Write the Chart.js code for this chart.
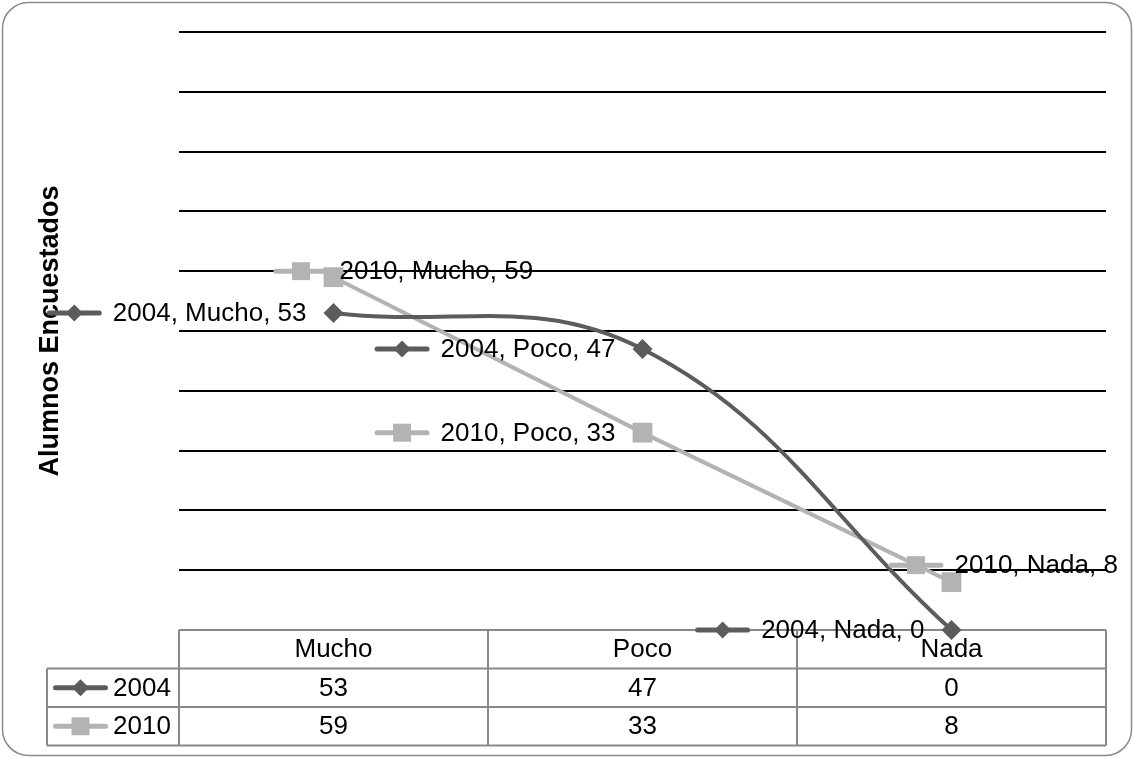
<!DOCTYPE html>
<html>
<head>
<meta charset="utf-8">
<script src="https://cdn.jsdelivr.net/npm/chart.js@4"></script>
<style>
  html, body { margin: 0; padding: 0; background: #fff; }
  #wrap { width: 1134px; height: 758px; }
</style>
</head>
<body>
<div id="wrap"><canvas id="c" width="1134" height="758"></canvas></div>
<script>
// ---- data ----
const categories = ['Mucho', 'Poco', 'Nada'];
const seriesNames = ['2004', '2010'];
const values2004 = [53, 47, 0];
const values2010 = [59, 33, 8];
const yMin = 0, yMax = 100, yStep = 10;
const axisTitle = 'Alumnos Encuestados';

// ---- style ----
const FONT = '"Liberation Sans", Arial, sans-serif';
const COLOR_2004 = '#5c5c5c';
const COLOR_2010 = '#b3b3b3';
const TABLE_LINE = '#888888';

// where each data label sits relative to its point:
// 'left' = key+text ending just left of the point, otherwise an offset of the key's left edge
const labelPlacement = [
  ['left', 'left', 'left'],
  [{ dx: -60, dy: -6 }, 'left', { dx: -63, dy: -17 }]
];

const KEY_LEN = 55, KEY_GAP = 11, LEFT_GAP = 27;

function drawMarker(ctx, ds, x, y, radius) {
  ctx.fillStyle = ds.pointBackgroundColor;
  Chart.helpers.drawPoint(ctx, { pointStyle: ds.pointStyle, radius: radius, rotation: 0, borderWidth: 0 }, x, y);
}

function drawKey(ctx, ds, x0, cy) {
  ctx.save();
  ctx.strokeStyle = ds.borderColor;
  ctx.lineWidth = 5;
  ctx.lineCap = 'round';
  ctx.beginPath();
  ctx.moveTo(x0 + 2.5, cy);
  ctx.lineTo(x0 + KEY_LEN - 2.5, cy);
  ctx.stroke();
  drawMarker(ctx, ds, x0 + KEY_LEN / 2, cy, ds.keyRadius);
  ctx.restore();
}

// rounded frame around the whole chart
const framePlugin = {
  id: 'frame',
  beforeDraw(chart) {
    const ctx = chart.ctx;
    ctx.save();
    ctx.fillStyle = '#fff';
    ctx.fillRect(0, 0, chart.width, chart.height);
    ctx.strokeStyle = '#8a8a8a';
    ctx.lineWidth = 1.5;
    ctx.beginPath();
    ctx.roundRect(2.5, 2.5, chart.width - 5, chart.height - 5, 26);
    ctx.stroke();
    ctx.restore();
  }
};

// data table under the plot
const tablePlugin = {
  id: 'dataTable',
  beforeDatasetsDraw(chart) {
    const ctx = chart.ctx;
    const a = chart.chartArea;
    const x = chart.scales.x;
    const n = categories.length;
    const band = (a.right - a.left) / n;
    const rowH = 38.5;
    const top = a.bottom;
    const labelLeft = 47;
    const bottom = top + rowH * (1 + chart.data.datasets.length);
    ctx.save();
    ctx.strokeStyle = TABLE_LINE;
    ctx.lineWidth = 2;
    ctx.beginPath();
    ctx.moveTo(a.left, top); ctx.lineTo(a.right, top);
    for (let r = 1; r <= chart.data.datasets.length; r++) {
      ctx.moveTo(labelLeft, top + r * rowH); ctx.lineTo(a.right, top + r * rowH);
    }
    ctx.moveTo(labelLeft, bottom); ctx.lineTo(a.right, bottom);
    for (let i = 0; i <= n; i++) {
      const xx = a.left + i * band;
      ctx.moveTo(xx, top); ctx.lineTo(xx, bottom);
    }
    ctx.moveTo(labelLeft, top + rowH); ctx.lineTo(labelLeft, bottom);
    ctx.stroke();

    ctx.fillStyle = '#000';
    ctx.font = '26px ' + FONT;
    ctx.textBaseline = 'middle';
    ctx.textAlign = 'center';
    categories.forEach((c, i) => ctx.fillText(c, x.getPixelForValue(i), top + rowH / 2 + 1));
    chart.data.datasets.forEach((ds, r) => {
      const cy = top + rowH * (r + 1.5);
      ds.data.forEach((v, i) => {
        ctx.fillStyle = '#000';
        ctx.textAlign = 'center';
        ctx.fillText(String(v), x.getPixelForValue(i), cy + 1);
      });
      drawKey(ctx, ds, labelLeft + 6, cy);
      ctx.fillStyle = '#000';
      ctx.textAlign = 'left';
      ctx.font = '26px ' + FONT;
      ctx.fillText(ds.label, labelLeft + 66, cy + 1);
    });
    ctx.restore();
  }
};

// "series, category, value" labels with a legend key
const labelPlugin = {
  id: 'pointLabels',
  afterDatasetsDraw(chart) {
    const ctx = chart.ctx;
    ctx.save();
    ctx.font = '26px ' + FONT;
    ctx.textBaseline = 'middle';
    chart.data.datasets.forEach((ds, di) => {
      const meta = chart.getDatasetMeta(di);
      meta.data.forEach((pt, i) => {
        const text = ds.label + ', ' + categories[i] + ', ' + ds.data[i];
        const tw = ctx.measureText(text).width;
        const place = labelPlacement[di][i];
        let x0, cy;
        if (place === 'left') {
          x0 = pt.x - LEFT_GAP - tw - KEY_GAP - KEY_LEN;
          cy = pt.y;
        } else {
          x0 = pt.x + place.dx;
          cy = pt.y + place.dy;
        }
        drawKey(ctx, ds, x0, cy);
        ctx.fillStyle = '#000';
        ctx.textAlign = 'left';
        ctx.fillText(text, x0 + KEY_LEN + KEY_GAP, cy + 1);
      });
    });
    ctx.restore();
  }
};

new Chart(document.getElementById('c'), {
  type: 'line',
  data: {
    labels: categories,
    datasets: [
      {
        label: seriesNames[0],
        data: values2004,
        borderColor: COLOR_2004,
        backgroundColor: COLOR_2004,
        pointBackgroundColor: COLOR_2004,
        borderWidth: 4,
        tension: 0.4,
        pointStyle: 'rectRot',
        pointRadius: 10,
        keyRadius: 8.5,
        pointBorderWidth: 0,
        clip: false
      },
      {
        label: seriesNames[1],
        data: values2010,
        borderColor: COLOR_2010,
        backgroundColor: COLOR_2010,
        pointBackgroundColor: COLOR_2010,
        borderWidth: 4,
        tension: 0,
        pointStyle: 'rect',
        pointRadius: 14,
        keyRadius: 12.7,
        pointBorderWidth: 0,
        clip: false
      }
    ]
  },
  options: {
    responsive: false,
    animation: false,
    devicePixelRatio: 1,
    layout: { padding: { left: 0, right: 28, top: 32, bottom: 128 } },
    plugins: { legend: { display: false }, tooltip: { enabled: false } },
    scales: {
      x: { type: 'category', display: false, offset: true },
      y: {
        min: yMin,
        max: yMax,
        ticks: { display: false, stepSize: yStep },
        border: { display: false },
        grid: {
          drawTicks: false,
          lineWidth: 2,
          color: c => (c.tick && c.tick.value === yMin) ? 'rgba(0,0,0,0)' : '#000'
        },
        title: {
          display: true,
          text: axisTitle,
          color: '#000',
          font: { family: FONT, size: 27, weight: 'bold' },
          padding: { top: 34, bottom: 0 }
        },
        afterFit(s) { s.width = 179; }
      }
    }
  },
  plugins: [framePlugin, tablePlugin, labelPlugin]
});
</script>
</body>
</html>
